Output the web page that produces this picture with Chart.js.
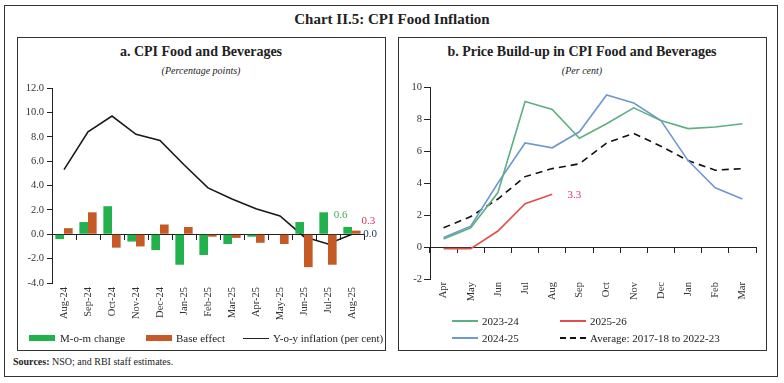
<!DOCTYPE html>
<html lang="en">
<head>
<meta charset="UTF-8">
<title>Chart II.5: CPI Food Inflation</title>
<style>
    body { margin: 0; background: #fff; font-family: "Liberation Serif", "DejaVu Serif", serif; color: #222; }
    .pagina { position: relative; width: 784px; height: 383px; overflow: hidden; }
    .moldura { position: absolute; left: 4px; top: 5px; width: 774px; height: 372px; border: 1.5px solid #333; box-sizing: border-box; }
    .tituloGeral { position: absolute; left: 0; width: 784px; top: 11px; text-align: center; font-weight: bold; font-size: 15px; }
    .painel { position: absolute; top: 37px; width: 369px; height: 314px; border: 1.3px solid #333; box-sizing: border-box; }
    .titulo { position: absolute; top: 44px; width: 368px; text-align: center; font-weight: bold; font-size: 14px; }
    .subtitulo { position: absolute; top: 65px; width: 368px; text-align: center; font-style: italic; font-size: 10px; }
    canvas { position: absolute; }
    .leg { position: absolute; font-size: 11px; line-height: 12px; white-space: nowrap; }
    .caixa { position: absolute; width: 26px; height: 6px; }
    .linha { position: absolute; width: 26px; height: 0; }
    .fontes { position: absolute; left: 13px; top: 356px; font-size: 10px; }
</style>
</head>
<body>
<div class="pagina">
    <div class="moldura"></div>
    <div class="tituloGeral">Chart II.5: CPI Food Inflation</div>

    <div class="painel" style="left:17px"></div>
    <div class="titulo" style="left:17px">a. CPI Food and Beverages</div>
    <div class="subtitulo" style="left:17px">(Percentage points)</div>
    <canvas id="graficoA" width="368" height="312" style="left:17px; top:38px"></canvas>

    <div class="painel" style="left:398px"></div>
    <div class="titulo" style="left:398px">b. Price Build-up in CPI Food and Beverages</div>
    <div class="subtitulo" style="left:398px">(Per cent)</div>
    <canvas id="graficoB" width="368" height="312" style="left:398px; top:38px"></canvas>

    <!-- legenda a -->
    <div class="caixa" style="left:29px; top:335px; background:#22B14C"></div>
    <div class="leg" style="left:60px; top:332px">M-o-m change</div>
    <div class="caixa" style="left:146px; top:335px; background:#C65A27"></div>
    <div class="leg" style="left:176px; top:332px">Base effect</div>
    <div class="linha" style="left:243px; top:338px; border-top:1.5px solid #222"></div>
    <div class="leg" style="left:273px; top:332px">Y-o-y inflation (per cent)</div>

    <!-- legenda b -->
    <div class="linha" style="left:452px; top:320px; border-top:2px solid #5DB07F"></div>
    <div class="leg" style="left:482px; top:315px">2023-24</div>
    <div class="linha" style="left:560px; top:320px; border-top:2px solid #E0504A"></div>
    <div class="leg" style="left:590px; top:315px">2025-26</div>
    <div class="linha" style="left:452px; top:337px; border-top:2px solid #6F98D2"></div>
    <div class="leg" style="left:482px; top:332px">2024-25</div>
    <div class="linha" style="left:560px; top:337px; border-top:2px dashed #111"></div>
    <div class="leg" style="left:590px; top:332px">Average: 2017-18 to 2022-23</div>

    <div class="fontes"><b>Sources:</b> NSO; and RBI staff estimates.</div>
</div>

<script src="https://cdn.jsdelivr.net/npm/chart.js"></script>
<script>
    // painel a
    var meses = ['Aug-24', 'Sep-24', 'Oct-24', 'Nov-24', 'Dec-24', 'Jan-25', 'Feb-25', 'Mar-25', 'Apr-25', 'May-25', 'Jun-25', 'Jul-25', 'Aug-25'];
    var momChange = [-0.4, 1.0, 2.3, -0.6, -1.3, -2.5, -1.7, -0.8, -0.2, 0.0, 1.0, 1.8, 0.6];
    var baseEffect = [0.5, 1.8, -1.1, -1.0, 0.8, 0.6, -0.2, -0.3, -0.7, -0.8, -2.7, -2.5, 0.3];
    var yoyInflacao = [5.3, 8.4, 9.7, 8.2, 7.7, 5.7, 3.8, 2.9, 2.1, 1.5, -0.2, -0.8, 0.0];

    // painel b
    var mesesFY = ['Apr', 'May', 'Jun', 'Jul', 'Aug', 'Sep', 'Oct', 'Nov', 'Dec', 'Jan', 'Feb', 'Mar'];
    var ano2324 = [0.5, 1.2, 3.4, 9.1, 8.6, 6.8, 7.7, 8.7, 7.9, 7.4, 7.5, 7.7];
    var ano2425 = [0.6, 1.3, 4.0, 6.5, 6.2, 7.2, 9.5, 9.0, 7.9, 5.4, 3.7, 3.0];
    var ano2526 = [-0.1, -0.1, 1.0, 2.7, 3.3];
    var media = [1.2, 1.9, 3.0, 4.4, 4.9, 5.2, 6.5, 7.1, 6.3, 5.4, 4.8, 4.9];

    var fonte = '"Liberation Serif", "DejaVu Serif", serif';

    // escreve o ultimo valor de cada serie ao lado do ponto
    var rotulosFinais = {
        id: 'rotulosFinais',
        afterDatasetsDraw: function (chart, args, opts) {
            var ctx = chart.ctx;
            ctx.save();
            ctx.font = '11px ' + fonte;
            ctx.textBaseline = 'middle';
            ctx.textAlign = 'center';
            opts.itens.forEach(function (item) {
                var meta = chart.getDatasetMeta(item.ds);
                var dados = chart.data.datasets[item.ds].data;
                var ponto = meta.data[meta.data.length - 1];
                ctx.fillStyle = item.cor;
                ctx.fillText(dados[dados.length - 1].toFixed(1), ponto.x + item.dx, ponto.y + item.dy);
            });
            ctx.restore();
        }
    };

    function eixoZero(labels) {
        return {
            type: 'category',
            labels: labels,
            position: { y: 0 },
            offset: true,
            ticks: { display: false },
            grid: { drawOnChartArea: false, drawTicks: true, tickLength: 5, offset: true, color: '#222' },
            border: { display: true, color: '#222', width: 1 }
        };
    }

    function eixoRotulos(altura, pad) {
        return {
            offset: true,
            grid: { display: false, drawTicks: false },
            border: { display: false },
            ticks: { minRotation: 90, maxRotation: 90, autoSkip: false, padding: pad, color: '#333', font: { family: fonte, size: 10.5 } },
            afterFit: function (eixo) { eixo.height = altura; }
        };
    }

    new Chart(document.getElementById('graficoA'), {
        type: 'bar',
        data: {
            labels: meses,
            datasets: [{
                label: 'M-o-m change',
                data: momChange,
                backgroundColor: '#22B14C',
                categoryPercentage: 0.72,
                barPercentage: 1.0
            }, {
                label: 'Base effect',
                data: baseEffect,
                backgroundColor: '#C65A27',
                categoryPercentage: 0.72,
                barPercentage: 1.0
            }, {
                type: 'line',
                label: 'Y-o-y inflation (per cent)',
                data: yoyInflacao,
                borderColor: '#1a1a1a',
                borderWidth: 1.6,
                pointRadius: 0,
                tension: 0
            }]
        },
        options: {
            responsive: false,
            animation: false,
            layout: { padding: { top: 50, right: 21, left: 0, bottom: 27 } },
            plugins: {
                legend: { display: false },
                tooltip: { enabled: false },
                rotulosFinais: {
                    itens: [
                        { ds: 0, cor: '#3FAE4F', dx: -7, dy: -12 },
                        { ds: 1, cor: '#E0335A', dx: 12, dy: -9 },
                        { ds: 2, cor: '#1F3A6E', dx: 18, dy: 0 }
                    ]
                }
            },
            scales: {
                x: eixoRotulos(40, 4),
                x2: eixoZero(meses),
                y: {
                    min: -4,
                    max: 12,
                    ticks: {
                        stepSize: 2,
                        padding: 3,
                        color: '#333',
                        font: { family: fonte, size: 10.5 },
                        callback: function (v) { return v.toFixed(1); }
                    },
                    grid: { drawOnChartArea: false, tickLength: 5, color: '#222' },
                    border: { display: true, color: '#222', width: 1 },
                    afterFit: function (eixo) { eixo.width = 35; }
                }
            }
        },
        plugins: [rotulosFinais]
    });

    new Chart(document.getElementById('graficoB'), {
        type: 'line',
        data: {
            labels: mesesFY,
            datasets: [{
                label: '2023-24',
                data: ano2324,
                borderColor: '#5DB07F',
                borderWidth: 1.6,
                pointRadius: 0,
                tension: 0
            }, {
                label: '2024-25',
                data: ano2425,
                borderColor: '#6F98D2',
                borderWidth: 1.6,
                pointRadius: 0,
                tension: 0
            }, {
                label: '2025-26',
                data: ano2526,
                borderColor: '#E0504A',
                borderWidth: 1.6,
                pointRadius: 0,
                tension: 0
            }, {
                label: 'Average: 2017-18 to 2022-23',
                data: media,
                borderColor: '#111',
                borderWidth: 1.6,
                borderDash: [7, 5],
                pointRadius: 0,
                tension: 0
            }]
        },
        options: {
            responsive: false,
            animation: false,
            layout: { padding: { top: 49, right: 10, left: 0, bottom: 31 } },
            plugins: {
                legend: { display: false },
                tooltip: { enabled: false },
                rotulosFinais: {
                    itens: [
                        { ds: 2, cor: '#E0335A', dx: 22, dy: 1 }
                    ]
                }
            },
            scales: {
                x: eixoRotulos(40, 3),
                x2: eixoZero(mesesFY),
                y: {
                    min: -2,
                    max: 10,
                    ticks: {
                        stepSize: 2,
                        padding: 2,
                        color: '#333',
                        font: { family: fonte, size: 10.5 }
                    },
                    grid: { drawOnChartArea: false, tickLength: 6, color: '#222' },
                    border: { display: true, color: '#222', width: 1 },
                    afterFit: function (eixo) { eixo.width = 32; }
                }
            }
        },
        plugins: [rotulosFinais]
    });
</script>
</body>
</html>
